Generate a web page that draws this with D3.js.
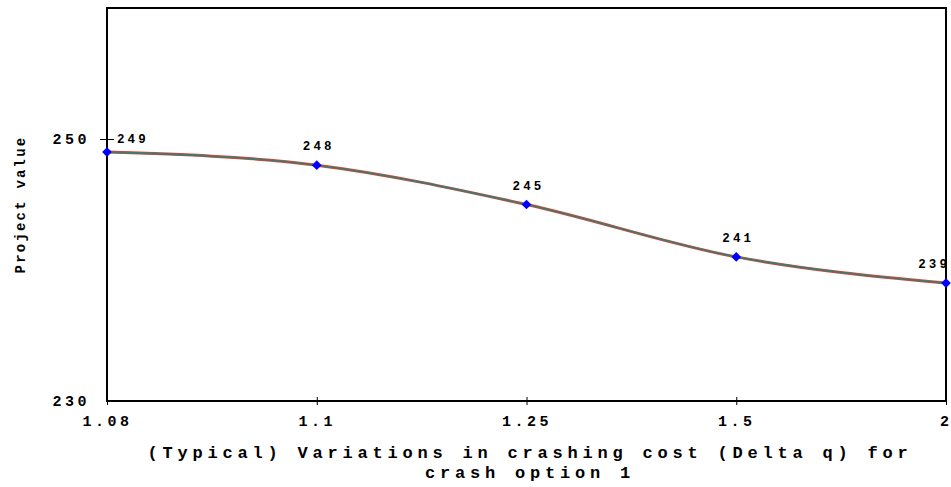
<!DOCTYPE html>
<html lang="en">
<head>
<meta charset="utf-8">
<script src="https://cdn.jsdelivr.net/npm/d3@7"></script>
<style>
  body { margin: 0; background: #fff; }
  text { font-family: "Courier New", Courier, "Liberation Mono", monospace; font-weight: bold; fill: #000; }
</style>
</head>
<body>
<div id="chart"></div>
<script>
    // data
    const categories = ["1.08", "1.1", "1.25", "1.5", "2"];
    const projectValues = [249, 248, 245, 241, 239];
    const yTicks = [230, 250];
    const yDomain = [230, 260];

    const width = 951, height = 487;
    const margin = { top: 8, right: 5, bottom: 86, left: 107 };
    const plotW = width - margin.left - margin.right;
    const plotH = height - margin.top - margin.bottom;
    const monoFont = "'Courier New', Courier, 'Liberation Mono', monospace";

    const svg = d3.select("#chart").append("svg")
        .attr("width", width)
        .attr("height", height);

    const g = svg.append("g")
        .attr("transform", `translate(${margin.left},${margin.top})`);

    const x = d3.scalePoint().domain(categories).range([0, plotW]);
    const y = d3.scaleLinear().domain(yDomain).range([plotH, 0]);

    // frame
    g.append("rect")
        .attr("x", 0).attr("y", 0)
        .attr("width", plotW).attr("height", plotH)
        .attr("fill", "none")
        .attr("stroke", "#000")
        .attr("stroke-width", 2);

    // y axis
    const yAxis = g.append("g")
        .call(d3.axisLeft(y).tickValues(yTicks).tickSize(7).tickPadding(10));
    yAxis.select(".domain").remove();
    yAxis.selectAll(".tick line").attr("x2", d => d === yDomain[0] ? -7 : 7).attr("x1", -7).attr("stroke", "#000");
    yAxis.selectAll(".tick text")
        .style("font-size", "15px")
        .style("letter-spacing", "3.5px")
        .style("font-family", monoFont)
        .style("font-weight", "bold");

    // x axis
    const xAxis = g.append("g")
        .attr("transform", `translate(0,${plotH})`)
        .call(d3.axisBottom(x).tickSize(4).tickPadding(10));
    xAxis.select(".domain").remove();
    xAxis.selectAll(".tick line").attr("y1", -4).attr("y2", 4).attr("stroke", "#000");
    xAxis.selectAll(".tick text")
        .style("font-size", "15px")
        .style("letter-spacing", d => d === categories[categories.length - 1] ? "0px" : "3.5px")
        .attr("dx", d => d === categories[categories.length - 1] ? -2 : 0)
        .style("font-family", monoFont)
        .style("font-weight", "bold");

    // line (red under teal)
    const line = d3.line()
        .x((d, i) => x(categories[i]))
        .y(d => y(d))
        .curve(d3.curveMonotoneX);

    g.append("path")
        .datum(projectValues)
        .attr("d", line)
        .attr("fill", "none")
        .attr("stroke", "#e8432e")
        .attr("stroke-width", 3);

    g.append("path")
        .datum(projectValues)
        .attr("d", line)
        .attr("fill", "none")
        .attr("stroke", "#2f7f7a")
        .attr("stroke-width", 1.6);

    // markers
    g.selectAll(".pt")
        .data(projectValues)
        .enter()
        .append("path")
        .attr("class", "pt")
        .attr("transform", (d, i) => `translate(${x(categories[i])},${y(d)})`)
        .attr("d", d3.symbol().type(d3.symbolDiamond2).size(60))
        .attr("fill", "#0000ff");

    // value labels
    const n = projectValues.length;
    g.selectAll(".lbl")
        .data(projectValues)
        .enter()
        .append("text")
        .attr("class", "lbl")
        .attr("x", (d, i) => x(categories[i]) + (i === 0 ? 10 : i === n - 1 ? 4 : 2))
        .attr("y", (d, i) => y(d) - (i === 0 ? 9 : 15))
        .attr("text-anchor", (d, i) => i === 0 ? "start" : i === n - 1 ? "end" : "middle")
        .style("font-size", "12.5px")
        .style("letter-spacing", "3.1px")
        .text(d => d);

    // axis titles
    svg.append("text")
        .attr("transform", `translate(25,${margin.top + y(245)}) rotate(-90)`)
        .attr("text-anchor", "middle")
        .style("font-size", "14px")
        .style("letter-spacing", "2.2px")
        .text("Project value");

    const titleLines = ["(Typical) Variations in crashing cost (Delta q) for", "crash option 1"];
    svg.append("text")
        .attr("x", 530)
        .attr("y", 458)
        .attr("text-anchor", "middle")
        .style("font-size", "17px")
        .style("letter-spacing", "4.8px")
        .selectAll("tspan")
        .data(titleLines)
        .enter()
        .append("tspan")
        .attr("x", 530)
        .attr("dy", (d, i) => i === 0 ? 0 : 20)
        .text(d => d);
</script>
</body>
</html>
